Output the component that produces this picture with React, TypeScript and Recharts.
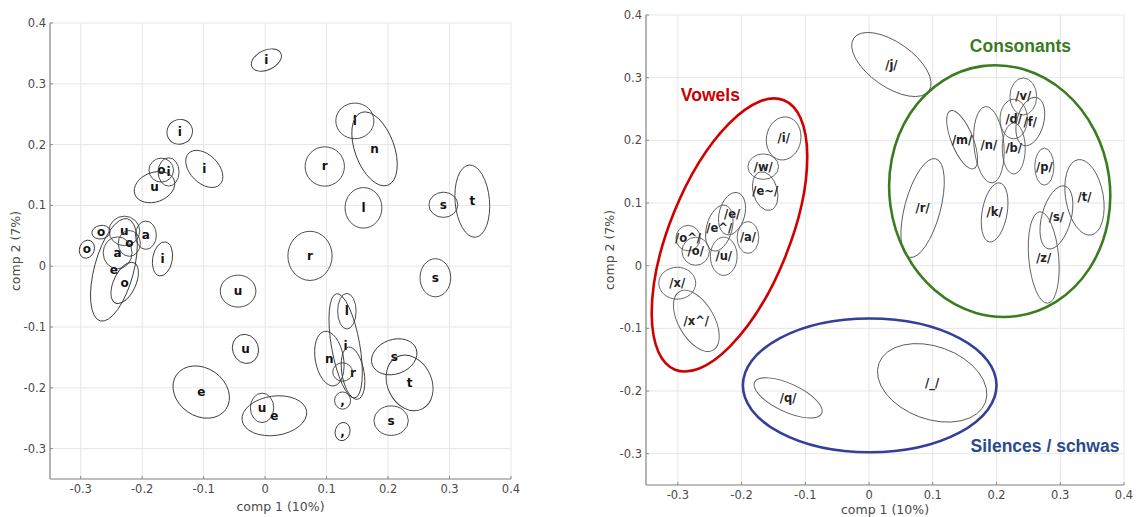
import React from "react"
import { ScatterChart, Scatter, XAxis, YAxis, CartesianGrid } from "recharts"

const ticks = [-0.3, -0.2, -0.1, 0, 0.1, 0.2, 0.3, 0.4]
const domain: [number, number] = [-0.35, 0.4]

// left panel: unsupervised clusters, label + centre + semi-axes (comp units) + tilt
const leftClusters = [
    { label: "i", x: 0.002, y: 0.339, rx: 0.026, ry: 0.016, angle: -25 },
    { label: "i", x: -0.139, y: 0.221, rx: 0.021, ry: 0.02, angle: -30 },
    { label: "i", x: -0.099, y: 0.16, rx: 0.036, ry: 0.023, angle: 45 },
    { label: "o", x: -0.169, y: 0.158, rx: 0.02, ry: 0.0195, angle: 0 },
    { label: "i", x: -0.157, y: 0.155, rx: 0.017, ry: 0.023, angle: 0 },
    { label: "u", x: -0.18, y: 0.13, rx: 0.034, ry: 0.024, angle: -20 },
    { label: "o", x: -0.267, y: 0.056, rx: 0.015, ry: 0.011, angle: -10 },
    { label: "o", x: -0.29, y: 0.028, rx: 0.012, ry: 0.015, angle: 20 },
    { label: "u", x: -0.229, y: 0.058, rx: 0.025, ry: 0.024, angle: 0 },
    { label: "a", x: -0.194, y: 0.051, rx: 0.017, ry: 0.023, angle: 0 },
    { label: "o", x: -0.221, y: 0.0375, rx: 0.018, ry: 0.021, angle: 0 },
    { label: "a", x: -0.24, y: 0.022, rx: 0.0235, ry: 0.026, angle: 0 },
    { label: "i", x: -0.167, y: 0.012, rx: 0.016, ry: 0.028, angle: 10 },
    { label: "e", x: -0.246, y: -0.006, rx: 0.032, ry: 0.086, angle: 15 },
    { label: "o", x: -0.2285, y: -0.0275, rx: 0.018, ry: 0.036, angle: 25 },
    { label: "u", x: -0.044, y: -0.041, rx: 0.029, ry: 0.026, angle: 0 },
    { label: "u", x: -0.032, y: -0.136, rx: 0.021, ry: 0.024, angle: -20 },
    { label: "e", x: -0.104, y: -0.207, rx: 0.049, ry: 0.039, angle: 35 },
    { label: "u", x: -0.005, y: -0.233, rx: 0.019, ry: 0.024, angle: 0 },
    { label: "e", x: 0.015, y: -0.246, rx: 0.053, ry: 0.032, angle: -8 },
    { label: "r", x: 0.097, y: 0.164, rx: 0.032, ry: 0.032, angle: 0 },
    { label: "l", x: 0.146, y: 0.239, rx: 0.031, ry: 0.029, angle: 0 },
    { label: "n", x: 0.178, y: 0.193, rx: 0.032, ry: 0.063, angle: -20 },
    { label: "l", x: 0.16, y: 0.096, rx: 0.03, ry: 0.033, angle: 0 },
    { label: "s", x: 0.29, y: 0.101, rx: 0.0235, ry: 0.0205, angle: 0 },
    { label: "t", x: 0.337, y: 0.107, rx: 0.028, ry: 0.059, angle: -5 },
    { label: "r", x: 0.073, y: 0.017, rx: 0.036, ry: 0.04, angle: 0 },
    { label: "s", x: 0.277, y: -0.019, rx: 0.025, ry: 0.031, angle: 0 },
    { label: "l", x: 0.133, y: -0.074, rx: 0.015, ry: 0.029, angle: 0 },
    { label: "i", x: 0.131, y: -0.131, rx: 0.023, ry: 0.086, angle: -10 },
    { label: "n", x: 0.1045, y: -0.152, rx: 0.023, ry: 0.045, angle: -10 },
    { label: "r", x: 0.143, y: -0.176, rx: 0.018, ry: 0.043, angle: -10 },
    { label: "", x: 0.126, y: -0.174, rx: 0.016, ry: 0.015, angle: 0 },
    { label: ",", x: 0.126, y: -0.221, rx: 0.013, ry: 0.014, angle: 0 },
    { label: ",", x: 0.126, y: -0.272, rx: 0.012, ry: 0.015, angle: 15 },
    { label: "s", x: 0.21, y: -0.149, rx: 0.038, ry: 0.028, angle: -20 },
    { label: "t", x: 0.235, y: -0.192, rx: 0.036, ry: 0.047, angle: -25 },
    { label: "s", x: 0.205, y: -0.254, rx: 0.028, ry: 0.024, angle: 0 },
]

// right panel: phoneme classes
const rightPhonemes = [
    { label: "/i/", x: -0.134, y: 0.203, rx: 0.027, ry: 0.034, angle: 10 },
    { label: "/w/", x: -0.166, y: 0.158, rx: 0.024, ry: 0.02, angle: 0 },
    { label: "/e~/", x: -0.163, y: 0.119, rx: 0.019, ry: 0.031, angle: -15 },
    { label: "/e/", x: -0.215, y: 0.083, rx: 0.02, ry: 0.034, angle: 15 },
    { label: "/e^/", x: -0.235, y: 0.06, rx: 0.02, ry: 0.037, angle: 15 },
    { label: "/a/", x: -0.19, y: 0.045, rx: 0.017, ry: 0.025, angle: 0 },
    { label: "/o^/", x: -0.284, y: 0.044, rx: 0.019, ry: 0.02, angle: 0 },
    { label: "/o/", x: -0.272, y: 0.023, rx: 0.0215, ry: 0.022, angle: 0 },
    { label: "/u/", x: -0.228, y: 0.015, rx: 0.021, ry: 0.03, angle: 0 },
    { label: "/x/", x: -0.301, y: -0.028, rx: 0.029, ry: 0.025, angle: 0 },
    { label: "/x^/", x: -0.271, y: -0.088, rx: 0.028, ry: 0.053, angle: -30 },
    { label: "/q/", x: -0.127, y: -0.211, rx: 0.058, ry: 0.022, angle: 25 },
    { label: "/j/", x: 0.035, y: 0.321, rx: 0.072, ry: 0.035, angle: 35 },
    { label: "/v/", x: 0.242, y: 0.27, rx: 0.021, ry: 0.029, angle: 0 },
    { label: "/d/", x: 0.227, y: 0.234, rx: 0.0215, ry: 0.031, angle: 0 },
    { label: "/f/", x: 0.253, y: 0.23, rx: 0.021, ry: 0.039, angle: 15 },
    { label: "/m/", x: 0.146, y: 0.201, rx: 0.017, ry: 0.049, angle: -22 },
    { label: "/n/", x: 0.188, y: 0.193, rx: 0.0235, ry: 0.06, angle: -5 },
    { label: "/b/", x: 0.227, y: 0.187, rx: 0.018, ry: 0.04, angle: 0 },
    { label: "/p/", x: 0.275, y: 0.158, rx: 0.015, ry: 0.029, angle: 0 },
    { label: "/r/", x: 0.084, y: 0.092, rx: 0.028, ry: 0.08, angle: 15 },
    { label: "/k/", x: 0.197, y: 0.085, rx: 0.0196, ry: 0.047, angle: 10 },
    { label: "/t/", x: 0.338, y: 0.109, rx: 0.0295, ry: 0.06, angle: -10 },
    { label: "/s/", x: 0.294, y: 0.077, rx: 0.023, ry: 0.051, angle: 15 },
    { label: "/z/", x: 0.274, y: 0.013, rx: 0.0235, ry: 0.072, angle: -5 },
    { label: "/_/", x: 0.099, y: -0.187, rx: 0.089, ry: 0.057, angle: 20 },
]

const rightGroups = [
    { name: "Vowels", x: -0.219, y: 0.049, rx: 0.094, ry: 0.228, angle: 22, color: "#d00000" },
    { name: "Consonants", x: 0.205, y: 0.119, rx: 0.173, ry: 0.198, angle: -8, color: "#3a7d1f" },
    { name: "Silences / schwas", x: 0.001, y: -0.191, rx: 0.199, ry: 0.105, angle: 0, color: "#333f98" },
]

const groupLabels = [
    { name: "Vowels", x: -0.249, y: 0.2716, color: "#cc0000" },
    { name: "Consonants", x: 0.2375, y: 0.35, color: "#3a7a22" },
    { name: "Silences / schwas", x: 0.276, y: -0.2875, color: "#2b4a8e" },
]

const fmt = (v: number) => String(v)
const tickStyle = { fontSize: 11.5, fill: "#4a4a4a", fontFamily: "DejaVu Sans" }

function EllipseMark(props: any) {
    const { cx, cy, payload, k, stroke, strokeWidth, fontSize, textColor } = props
    const rx = payload.rx * k
    const ry = payload.ry * k
    return (
        <g>
            <ellipse
                cx={cx}
                cy={cy}
                rx={rx}
                ry={ry}
                transform={`rotate(${payload.angle} ${cx} ${cy})`}
                fill="none"
                stroke={stroke || payload.color}
                strokeWidth={strokeWidth}
            />
            {payload.label ? (
                <text
                    x={cx}
                    y={cy}
                    textAnchor="middle"
                    dominantBaseline="central"
                    fontFamily="DejaVu Sans"
                    fontWeight="bold"
                    fontSize={fontSize}
                    fill={textColor}
                >
                    {payload.label}
                </text>
            ) : null}
        </g>
    )
}

function GroupText(props: any) {
    const { cx, cy, payload } = props
    return (
        <text
            x={cx}
            y={cy}
            textAnchor="middle"
            dominantBaseline="central"
            fontFamily="Liberation Sans, Arial, sans-serif"
            fontWeight="bold"
            fontSize={17.5}
            fill={payload.color}
        >
            {payload.name}
        </text>
    )
}

function Panel({
    width,
    yAxisWidth,
    marginTop,
    marginRight,
    xAxisHeight,
    xLabelOffset,
    yLabelOffset,
    children,
}: any) {
    return (
        <ScatterChart
            width={width}
            height={517}
            margin={{ top: marginTop, right: marginRight, bottom: 0, left: 0 }}
        >
            <CartesianGrid stroke="#e6e6e6" />
            <XAxis
                type="number"
                dataKey="x"
                domain={domain}
                ticks={ticks}
                allowDataOverflow
                tickFormatter={fmt}
                tickLine={{ stroke: "#8a8a8a" }}
                tickSize={-3}
                tickMargin={9}
                height={xAxisHeight}
                axisLine={{ stroke: "#8a8a8a", strokeWidth: 1.2 }}
                tick={tickStyle}
                label={{
                    value: "comp 1 (10%)",
                    position: "insideBottom",
                    offset: xLabelOffset,
                    style: { fontSize: 12.5, fill: "#4a4a4a", fontFamily: "DejaVu Sans" },
                }}
            />
            <YAxis
                type="number"
                dataKey="y"
                domain={domain}
                ticks={ticks}
                allowDataOverflow
                tickFormatter={fmt}
                tickLine={{ stroke: "#8a8a8a" }}
                tickSize={-3}
                tickMargin={7}
                width={yAxisWidth}
                axisLine={{ stroke: "#8a8a8a", strokeWidth: 1.2 }}
                tick={tickStyle}
                label={{
                    value: "comp 2 (7%)",
                    angle: -90,
                    position: "insideLeft",
                    offset: yLabelOffset,
                    style: { textAnchor: "middle", fontSize: 12.5, fill: "#4a4a4a", fontFamily: "DejaVu Sans" },
                }}
            />
            {children}
        </ScatterChart>
    )
}

const span = domain[1] - domain[0]
const leftK = (520 - 50 - 9) / span
const rightK = (546 - 56 - 12) / span

export default function App() {
    return (
        <div style={{ position: "absolute", left: 0, top: 0, width: 1136, height: 517, background: "#fff" }}>
            <div style={{ position: "absolute", left: 0, top: 0 }}>
                <Panel width={520} yAxisWidth={50} marginTop={23} marginRight={9} xAxisHeight={38} xLabelOffset={6} yLabelOffset={16}>
                    <Scatter
                        data={leftClusters}
                        isAnimationActive={false}
                        shape={(p: any) => (
                            <EllipseMark {...p} k={leftK} stroke="#3a3a3a" strokeWidth={0.9} fontSize={12} textColor="#111" />
                        )}
                    />
                </Panel>
            </div>
            <div style={{ position: "absolute", left: 590, top: 0 }}>
                <Panel width={546} yAxisWidth={56} marginTop={15} marginRight={12} xAxisHeight={32} xLabelOffset={3} yLabelOffset={20}>
                    <Scatter
                        data={rightPhonemes}
                        isAnimationActive={false}
                        shape={(p: any) => (
                            <EllipseMark {...p} k={rightK} stroke="#5a5a5a" strokeWidth={0.9} fontSize={11.5} textColor="#222" />
                        )}
                    />
                    <Scatter
                        data={rightGroups}
                        isAnimationActive={false}
                        shape={(p: any) => <EllipseMark {...p} k={rightK} strokeWidth={2.6} />}
                    />
                    <Scatter data={groupLabels} isAnimationActive={false} shape={(p: any) => <GroupText {...p} />} />
                </Panel>
            </div>
        </div>
    )
}
